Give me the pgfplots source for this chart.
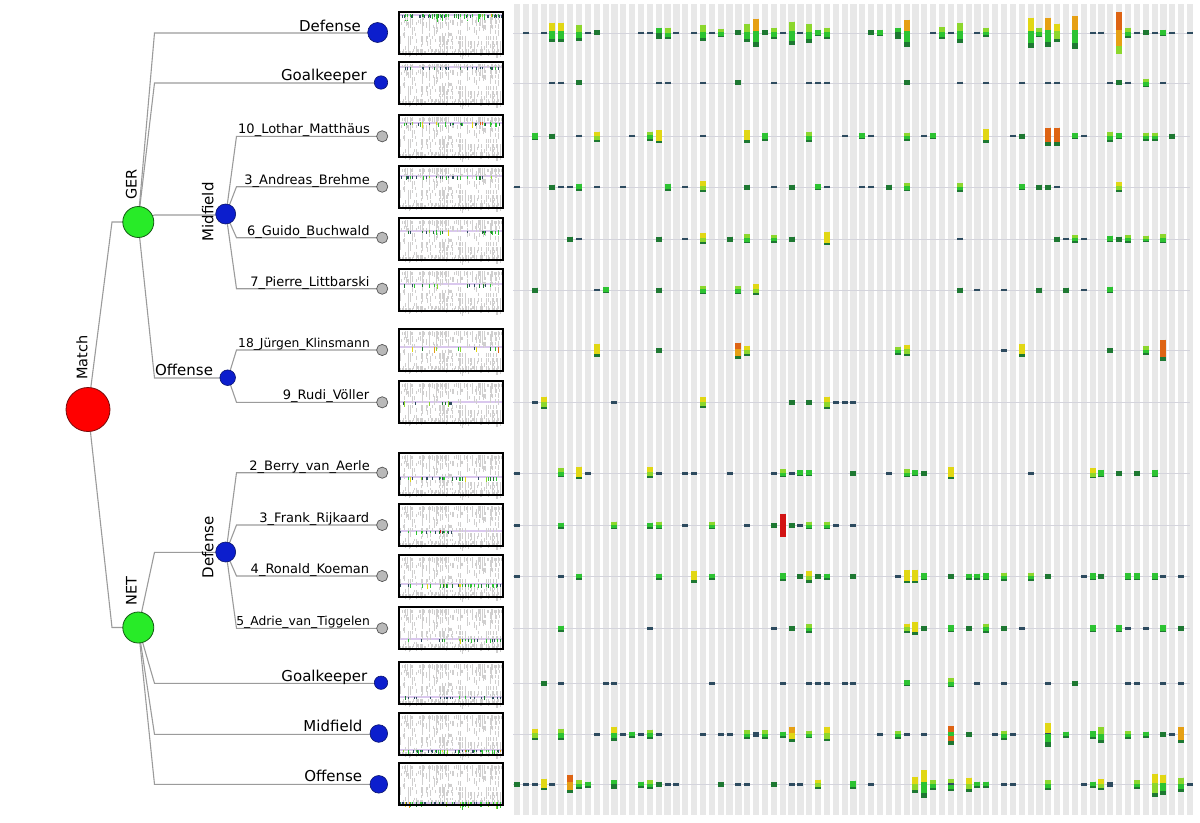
\documentclass[border=0pt]{standalone}
\usepackage{fontspec}
\setmainfont{DejaVu Sans}
\usepackage{pgfplots}
\usepackage{pgfplotstable}
\pgfplotsset{compat=1.18}

\definecolor{edge}{RGB}{155,155,155}
\definecolor{txt}{RGB}{30,30,30}
\definecolor{stripe}{RGB}{232,232,232}
\definecolor{rowline}{RGB}{212,212,220}
\definecolor{lav}{RGB}{218,200,238}
\definecolor{blu}{RGB}{12,30,205}
\definecolor{bluedge}{RGB}{10,20,110}
\definecolor{grn}{RGB}{40,235,40}
\definecolor{grnedge}{RGB}{20,90,20}
\definecolor{redc}{RGB}{255,0,0}
\definecolor{rededge}{RGB}{120,10,10}
\definecolor{leaf}{RGB}{185,185,185}
\definecolor{leafedge}{RGB}{85,85,85}

\newcommand\lbl{\fontsize{15bp}{18bp}\selectfont}
\newcommand\rlbl{\fontsize{14.5bp}{17bp}\selectfont}
\newcommand\plbl{\fontsize{13bp}{16bp}\selectfont}

% stripe centres of the time bins
\pgfplotstableread{
x y
517.0 4
525.9 4
534.7 4
543.6 4
552.4 4
561.3 4
570.1 4
579.0 4
587.8 4
596.7 4
605.6 4
614.4 4
623.3 4
632.1 4
641.0 4
649.8 4
658.7 4
667.5 4
676.4 4
685.2 4
694.1 4
703.0 4
711.8 4
720.7 4
729.5 4
738.4 4
747.2 4
756.1 4
764.9 4
773.8 4
782.7 4
791.5 4
800.4 4
809.2 4
818.1 4
826.9 4
835.8 4
844.6 4
853.5 4
862.3 4
871.2 4
880.1 4
888.9 4
897.8 4
906.6 4
915.5 4
924.3 4
933.2 4
942.0 4
950.9 4
959.8 4
968.6 4
977.5 4
986.3 4
995.2 4
1004.0 4
1012.9 4
1021.7 4
1030.6 4
1039.4 4
1048.3 4
1057.2 4
1066.0 4
1074.9 4
1083.7 4
1092.6 4
1101.4 4
1110.3 4
1119.1 4
1128.0 4
1136.9 4
1145.7 4
1154.6 4
1163.4 4
1172.3 4
1181.1 4
1190.0 4
}\stripes

\pgfplotstableread{
x b
513 33
513 83
513 136
513 187
513 239
513 290
513 350.5
513 402.5
513 473.3
513 525.5
513 576.5
513 628.5
513 683.3
513 734.5
513 784.5
}\rowtab

% glyphs: x, row baseline b, top offset a, height h, colours top/mid/bottom
\pgfplotstableread{
x b a h c1 c2 c3
529.3 33 -1.2 2.4 0 0 0
542.7 33 -1.2 2.4 0 0 0
551 33 -10 19.5 4 2 1
560 33 -10 19.5 4 2 1
578.3 33 -8 16 3 2 1
587.3 33 -1.2 2.4 0 0 0
596 33 -2.5 5 1 1 1
640 33 -1.2 2.4 0 0 0
649 33 -1.2 2.4 0 0 0
658 33 -5 11 2 1 1
666.7 33 -5 11 3 2 1
675.7 33 -1.2 2.4 0 0 0
697.7 33 -1.2 2.4 0 0 0
706.7 33 -8 16 3 2 1
715.7 33 -1.2 2.4 0 0 0
724.3 33 -4 8 3 2 1
742.3 33 -2.5 5 1 1 1
751 33 -9 18 3 2 1
760 33 -14 28 5 2 1
769 33 -2.5 5 1 1 1
777.7 33 -5 10.7 3 2 1
786.7 33 -1.2 2.4 0 0 0
795.3 33 -11.3 23.3 3 2 1
804.3 33 -1.2 2.4 0 0 0
813.3 33 -9 18.7 3 2 1
822 33 -3 6 2 2 1
831 33 -5 10.7 3 2 1
875 33 -2.5 5 1 1 1
884 33 -3 6 2 2 1
901.7 33 -5 10.7 2 1 1
910.7 33 -13 26.7 5 2 1
937.3 33 -1.2 2.4 0 0 0
941.7 33 -5.5 11.3 3 2 1
950.7 33 -1.2 2.4 0 0 0
960 33 -10 20 3 2 1
981.7 33 -1.2 2.4 0 0 0
990.7 33 -5 9 3 2 1
1030 33 -15 30 4 2 1
1039.3 33 -5 9.3 3 2 1
1048.3 33 -15 29 5 2 1
1057.3 33 -9.3 18.3 4 3 1
1075 33 -16.7 32.7 5 2 1
1092.7 33 -1.2 2.4 0 0 0
1101.7 33 -1.2 2.4 0 0 0
1119.3 33 -20.7 41.3 6 5 3
1128.3 33 -5 10 3 2 1
1137.3 33 -1.2 2.4 0 0 0
1146 33 -2.5 5 1 1 1
1155 33 -1.2 2.4 0 0 0
1164 33 -3 6 2 2 1
1172.7 33 -1.2 2.4 0 0 0
1186 33 -1.2 2.4 0 0 0
551 83 -1.2 2.4 0 0 0
560 83 -1.2 2.4 0 0 0
578.3 83 -2.5 5 1 1 1
658 83 -1.2 2.4 0 0 0
666.7 83 -1.2 2.4 0 0 0
706.7 83 -1.2 2.4 0 0 0
742.3 83 -2.5 5 1 1 1
777.7 83 -1.2 2.4 0 0 0
813.3 83 -1.2 2.4 0 0 0
822 83 -1.2 2.4 0 0 0
831 83 -1.2 2.4 0 0 0
910.7 83 -2.5 5 1 1 1
960 83 -1.2 2.4 0 0 0
990.7 83 -1.2 2.4 0 0 0
1021.7 83 -1.2 2.4 0 0 0
1048.3 83 -1.2 2.4 0 0 0
1057.3 83 -1.2 2.4 0 0 0
1110.7 83 -1.2 2.4 0 0 0
1119.3 83 -2.5 5 1 1 1
1128.3 83 -1.2 2.4 0 0 0
1146 83 -4 8 3 2 1
1164 83 -1.2 2.4 0 0 0
538.3 136 -3.3 7.3 2 2 1
551.7 136 -2.5 5 1 1 1
578.3 136 -1.2 2.4 0 0 0
596 136 -4.3 10 4 3 1
631.7 136 -1.2 2.4 0 0 0
649 136 -4.3 9 3 2 1
658 136 -6 13.3 4 4 1
706.7 136 -1.2 2.4 0 0 0
751 136 -6 12.7 4 4 1
769 136 -3.3 8 2 2 1
813.3 136 -4.3 10 3 2 1
844.3 136 -1.2 2.4 0 0 0
861.7 136 -3 6 2 2 1
868 136 -1.2 2.4 0 0 0
910.7 136 -3.3 8 3 2 1
920 136 -1.2 2.4 0 0 0
929 136 -3 6 2 2 1
990.7 136 -6.7 13.3 4 4 1
1012.7 136 -1.2 2.4 0 0 0
1021.7 136 -2.5 5 1 1 1
1048.3 136 -8.3 18 6 6 1
1057.3 136 -8.3 18 6 6 1
1075 136 -3 6 2 2 1
1080 136 -1.2 2.4 0 0 0
1110.7 136 -4.3 10 3 2 1
1119.3 136 -3 6 2 2 1
1146 136 -3.3 8 3 2 1
1155 136 -3.3 8 3 2 1
1172.7 136 -2.5 5 1 1 1
520 187 -1.2 2.4 0 0 0
551.7 187 -2.5 5 1 1 1
560 187 -1.2 2.4 0 0 0
569.3 187 -1.2 2.4 0 0 0
578.3 187 -3.3 7 2 2 1
596 187 -1.2 2.4 0 0 0
622.7 187 -1.2 2.4 0 0 0
666.7 187 -3.3 7 2 2 1
684.3 187 -1.2 2.4 0 0 0
706.7 187 -5.7 11 4 3 1
751 187 -2.5 5 1 1 1
777.7 187 -1.2 2.4 0 0 0
795.3 187 -2.5 5 1 1 1
822 187 -2.7 5.7 2 2 1
831 187 -1.2 2.4 0 0 0
861 187 -1.2 2.4 0 0 0
867 187 -1.2 2.4 0 0 0
892.7 187 -2.5 5 1 1 1
910.7 187 -4 8.3 3 2 1
960 187 -4 9 3 2 1
1021.7 187 -3 6 2 2 1
1039.3 187 -2.5 5 1 1 1
1048.3 187 -2.5 5 1 1 1
1057.3 187 -1.2 2.4 0 0 0
1119.3 187 -5 10 4 3 1
569.3 239 -2.5 5 1 1 1
578.3 239 -1.2 2.4 0 0 0
658 239 -2.5 5 1 1 1
684.3 239 -1.2 2.4 0 0 0
706.7 239 -5.7 10.7 4 3 1
733.3 239 -2.5 5 1 1 1
751 239 -5 9.3 3 2 1
777.7 239 -4 7.7 3 2 1
795.3 239 -2.5 5 1 1 1
831 239 -7.3 13.3 4 4 1
960 239 -1.2 2.4 0 0 0
1057.3 239 -2.5 5 1 1 1
1066 239 -1.2 2.4 0 0 0
1075 239 -4 7.7 3 2 1
1080 239 -1.2 2.4 0 0 0
1110.7 239 -3.3 6.7 2 2 1
1119.3 239 -2.5 5 1 1 1
1128.3 239 -4 7.7 3 2 1
1146 239 -3.3 6.7 3 2 1
1164 239 -5 9.3 3 2 1
538.3 290 -2.5 5 1 1 1
596 290 -1.2 2.4 0 0 0
605 290 -3 6 2 2 1
658 290 -2.5 5 1 1 1
706.7 290 -4 8 3 2 1
742.3 290 -4 8 3 2 1
760 290 -5.7 10.7 4 3 1
960 290 -2.5 5 1 1 1
973.3 290 -1.2 2.4 0 0 0
1004 290 -1.2 2.4 0 0 0
1039.3 290 -2.5 5 1 1 1
1066 290 -2.5 5 1 1 1
1079.3 290 -1.2 2.4 0 0 0
1110.7 290 -3.3 6.7 2 2 1
596 350.5 -6.7 12.7 4 4 1
658 350.5 -2.5 5 1 1 1
742.3 350.5 -8 16.3 6 5 1
751 350.5 -4.7 9.7 4 3 1
901.7 350.5 -4 8.3 3 2 1
910.7 350.5 -5.7 11 4 3 1
1004 350.5 -1.2 2.4 0 0 0
1021.7 350.5 -6.7 12.7 4 4 1
1110.7 350.5 -2.5 5 1 1 1
1146 350.5 -4.7 9 3 2 1
1164 350.5 -10.7 20.7 6 6 1
537.3 402.5 -1.2 2.4 0 0 0
542.7 402.5 -6 12.7 4 3 1
614 402.5 -1.2 2.4 0 0 0
706.7 402.5 -5.3 11 4 3 1
795.3 402.5 -2.5 5 1 1 1
813.3 402.5 -2.5 5 1 1 1
831 402.5 -6 12.7 4 3 1
839 402.5 -1.2 2.4 0 0 0
844 402.5 -1.2 2.4 0 0 0
852.7 402.5 -1.2 2.4 0 0 0
516 473.3 -1.2 2.4 0 0 0
565 473.3 -5 9 3 2 1
582.7 473.3 -6.7 12.7 4 4 1
591.7 473.3 -1.2 2.4 0 0 0
653.3 473.3 -6 11 4 3 1
662.7 473.3 -1.2 2.4 0 0 0
686.5 473.3 -1.2 2.4 0 0 0
692 473.3 -1.2 2.4 0 0 0
729 473.3 -1.2 2.4 0 0 0
773.3 473.3 -1.2 2.4 0 0 0
782.3 473.3 -4 8 3 2 1
791 473.3 -1.2 2.4 0 0 0
800 473.3 -3 6 2 2 1
809 473.3 -3 6 2 2 1
857.5 473.3 -2.5 5 1 1 1
888.3 473.3 -1.2 2.4 0 0 0
906.7 473.3 -4 8 3 2 1
915.3 473.3 -3 6 2 2 1
924.3 473.3 -2.5 5 1 1 1
946.7 473.3 -6 11.7 4 4 1
1035 473.3 -1.2 2.4 0 0 0
1088.3 473.3 -5 10 4 3 1
1097.3 473.3 -3.5 7 2 2 1
1115 473.3 -2.5 5 1 1 1
1132.7 473.3 -2.5 5 1 1 1
1150.7 473.3 -3.5 7 2 2 1
516 525.5 -1.2 2.4 0 0 0
565 525.5 -3 6 2 2 1
617.7 525.5 -4 7.7 3 2 1
653.3 525.5 -3 6 2 2 1
662.7 525.5 -4 7.7 3 2 1
689.3 525.5 -1.2 2.4 0 0 0
711 525.5 -4 7.7 3 2 1
746.7 525.5 -1.2 2.4 0 0 0
773.3 525.5 -2.5 5 1 1 1
782.3 525.5 -11.7 23.3 7 7 7
791 525.5 -2.5 5 1 1 1
800 525.5 -1.2 2.4 0 0 0
809 525.5 -4 7.7 3 2 1
826.7 525.5 -4 7.7 3 2 1
835.7 525.5 -1.2 2.4 0 0 0
853 525.5 -1.2 2.4 0 0 0
516 576.5 -1.2 2.4 0 0 0
565 576.5 -1.2 2.4 0 0 0
582.7 576.5 -3 6 2 2 1
662.7 576.5 -3 6 2 2 1
693.3 576.5 -6 12 4 4 1
711 576.5 -3 6 2 2 1
782.3 576.5 -3.5 7.5 2 2 1
800 576.5 -2.5 5 1 1 1
809 576.5 -6 12 4 3 1
817.7 576.5 -2.5 5 1 1 1
826.7 576.5 -3 6 2 2 1
857.5 576.5 -2.5 5 1 1 1
897.3 576.5 -1.2 2.4 0 0 0
906.7 576.5 -6.7 13.3 4 4 1
915.3 576.5 -6.7 13.3 4 4 1
924.3 576.5 -3.5 7 2 2 1
946.7 576.5 -2.5 5 1 1 1
968.3 576.5 -3 6 2 2 1
977.3 576.5 -3 6 2 2 1
986 576.5 -3.5 7 2 2 1
1008.3 576.5 -4 8 3 2 1
1035 576.5 -4 8 3 2 1
1052.7 576.5 -2.5 5 1 1 1
1083.3 576.5 -1.2 2.4 0 0 0
1088.3 576.5 -3.5 7 2 2 1
1097.3 576.5 -2.5 5 1 1 1
1124 576.5 -3.5 7 2 2 1
1132.7 576.5 -3.5 7 2 2 1
1150.7 576.5 -3.5 7 2 2 1
1159.3 576.5 -1.2 2.4 0 0 0
1177.3 576.5 -1.2 2.4 0 0 0
565 628.5 -3 6 2 2 1
653.3 628.5 -1.2 2.4 0 0 0
773.3 628.5 -1.2 2.4 0 0 0
791 628.5 -2.5 5 1 1 1
809 628.5 -4.3 8.7 3 2 1
906.7 628.5 -5 9.3 4 3 1
915.3 628.5 -6.3 12.3 4 4 1
924.3 628.5 -2.5 5 1 1 1
946.7 628.5 -3.5 7 2 2 1
964.3 628.5 -2.5 5 1 1 1
986 628.5 -5 9.3 3 2 1
1008.3 628.5 -2.5 5 1 1 1
1026 628.5 -1.2 2.4 0 0 0
1088.3 628.5 -3.5 7 2 2 1
1115 628.5 -3.5 7 2 2 1
1124 628.5 -1.2 2.4 0 0 0
1141.7 628.5 -1.2 2.4 0 0 0
1159.3 628.5 -3.5 7 2 2 1
1177.3 628.5 -2.5 5 1 1 1
547.3 683.3 -2.5 5 1 1 1
565 683.3 -1.2 2.4 0 0 0
609.3 683.3 -1.2 2.4 0 0 0
618.3 683.3 -1.2 2.4 0 0 0
711 683.3 -1.2 2.4 0 0 0
782.3 683.3 -1.2 2.4 0 0 0
809 683.3 -1.2 2.4 0 0 0
817.7 683.3 -1.2 2.4 0 0 0
826.7 683.3 -1.2 2.4 0 0 0
848.3 683.3 -1.2 2.4 0 0 0
857.5 683.3 -1.2 2.4 0 0 0
906.7 683.3 -3 6 2 2 1
946.7 683.3 -5 9 3 2 1
977.3 683.3 -1.2 2.4 0 0 0
1008.3 683.3 -1.2 2.4 0 0 0
1052.7 683.3 -1.2 2.4 0 0 0
1070.7 683.3 -2.5 5 1 1 1
1124 683.3 -1.2 2.4 0 0 0
1132.7 683.3 -1.2 2.4 0 0 0
1159.3 683.3 -1.2 2.4 0 0 0
1177.3 683.3 -1.2 2.4 0 0 0
534 734.5 -5.7 10.7 4 3 1
565 734.5 -5.7 10.7 3 2 1
600.7 734.5 -1.2 2.4 0 0 0
618.3 734.5 -7.7 13.7 4 2 1
627.3 734.5 -1.2 2.4 0 0 0
636 734.5 -3 6 2 2 1
645 734.5 -1.2 2.4 0 0 0
653.3 734.5 -5 9.3 3 2 1
662.7 734.5 -1.2 2.4 0 0 0
702.3 734.5 -1.2 2.4 0 0 0
720 734.5 -1.2 2.4 0 0 0
729 734.5 -1.2 2.4 0 0 0
746.7 734.5 -4.3 8.3 3 2 1
755.7 734.5 -2.5 5 0 0 0
764.3 734.5 -4.3 8.3 3 2 1
782.3 734.5 -3 6 2 2 1
791 734.5 -7.7 14.7 5 4 1
809 734.5 -4 7.7 3 2 1
826.7 734.5 -7.7 14.3 4 3 1
879.3 734.5 -1.2 2.4 0 0 0
897.3 734.5 -4 8.3 3 2 1
906.7 734.5 -1.2 2.4 0 0 0
924.3 734.5 -1.2 2.4 0 0 0
946.7 734.5 -8.3 18.3 6 6 1
955.3 734.5 -3 6 2 2 1
964.3 734.5 -1.2 2.4 0 0 0
968.3 734.5 -2.5 5 1 1 1
994 734.5 -1.2 2.4 0 0 0
999 734.5 -1.2 2.4 0 0 0
1008.3 734.5 -4 9.3 3 2 1
1017.3 734.5 -1.2 2.4 0 0 0
1044 734.5 -1.2 2.4 0 0 0
1052.7 734.5 -11.3 23.3 4 2 1
1061.7 734.5 -3 6 2 2 1
1088.3 734.5 -3.5 7.7 2 2 1
1097.3 734.5 -7.3 15.7 3 2 1
1124 734.5 -3.5 7.7 3 2 1
1141.7 734.5 -3 6 2 2 1
1159.3 734.5 -2.5 5 1 1 1
1168.3 734.5 -1.2 2.4 0 0 0
1177.3 734.5 -7.3 16 5 5 1
516 784.5 -2.5 5 1 1 1
525 784.5 -1.2 2.4 0 0 0
534 784.5 -1.2 2.4 0 0 0
547.3 784.5 -5.7 10.7 4 4 1
556 784.5 -1.2 2.4 0 0 0
574 784.5 -10 18.3 6 5 1
582.7 784.5 -4.3 8.7 3 2 1
591.7 784.5 -3 6 2 2 1
618.3 784.5 -4.3 8.7 2 1 1
645 784.5 -3 6 2 2 1
653.3 784.5 -4.3 8.7 3 2 1
662.7 784.5 -2.5 5 1 1 1
671.7 784.5 -1.2 2.4 0 0 0
680.7 784.5 -1.2 2.4 0 0 0
720 784.5 -2.5 5 1 1 1
737.7 784.5 -1.2 2.4 0 0 0
746.7 784.5 -1.2 2.4 0 0 0
773.3 784.5 -2.5 5 1 1 1
791 784.5 -1.2 2.4 0 0 0
800 784.5 -1.2 2.4 0 0 0
817.7 784.5 -5 9.3 4 3 1
857.5 784.5 -4 8 2 2 1
870.7 784.5 -1.2 2.4 0 0 0
915.3 784.5 -7.7 16 4 3 1
924.3 784.5 -14.3 27.3 4 2 1
933.3 784.5 -4.3 9.3 3 2 1
946.7 784.5 -5.3 11.7 3 2 1
955.3 784.5 -1.2 2.4 0 0 0
968.3 784.5 -7 14.3 4 3 1
977.3 784.5 -3 6 2 2 1
986 784.5 -3 6 2 2 1
1008.3 784.5 -1.2 2.4 0 0 0
1017.3 784.5 -1.2 2.4 0 0 0
1044 784.5 -4.3 9.3 3 2 1
1052.7 784.5 -4.3 9.3 3 2 1
1083.3 784.5 -1.2 2.4 0 0 0
1088.3 784.5 -3 6 2 2 1
1097.3 784.5 -5.3 11 4 3 1
1106 784.5 -2.5 5 0 0 0
1132.7 784.5 -4.3 8.3 3 2 1
1150.7 784.5 -11 23.3 4 3 1
1159.3 784.5 -10 20.7 4 2 1
1177.3 784.5 -7 14.3 3 2 1
1190 784.5 -1.2 2.4 0 0 0
}\glyphs

% one miniature of the whole timeline: top, bottom, highlight y, range of the coloured row
\newcommand\thumb[5]{%
  \addplot[lav, line width=2bp] coordinates {(400,#3)(502,#3)};
  \addplot[quiver={u=0, v={2.5+0.2*\thisrow{h}}, colored=mapped color,
      every arrow/.append style={line width=0.55bp}}, line width=0.55bp,
    point meta={(\thisrow{b}>#4 && \thisrow{b}<#5) ? \thisrow{c2} : 8}]
    table[x expr={400+(\thisrow{x}-513)*0.1507},
          y expr={#1+1+(\thisrow{b}+\thisrow{a})*0.0491}] {\glyphs};
  \addplot[black, line width=1.2bp, line join=miter]
    coordinates {(451,#1)(503,#1)(503,#2)(399,#2)(399,#1)(451,#1)};
}

\begin{document}
\begin{tikzpicture}
\begin{axis}[
  scale only axis, width=1200bp, height=822bp,
  xmin=0, xmax=1200, ymin=0, ymax=822, y dir=reverse,
  hide axis,
  colormap={glyph}{rgb255(0cm)=(45,75,95) rgb255(1cm)=(30,120,50)
    rgb255(2cm)=(45,195,50) rgb255(3cm)=(140,215,45) rgb255(4cm)=(225,215,20)
    rgb255(5cm)=(230,160,20) rgb255(6cm)=(222,100,20) rgb255(7cm)=(210,20,20)
    rgb255(8cm)=(208,208,208)},
  point meta min=0, point meta max=8,
  every node/.style={inner sep=0pt, text=txt},
]
\addplot[draw=none] coordinates {(0,0)(1200,822)};

% time bins
\addplot[stripe, quiver={u=0, v=811, every arrow/.append style={line width=6.2bp}}]
  table[x=x, y=y] {\stripes};
\addplot[rowline, quiver={u=677, v=0, every arrow/.append style={line width=0.8bp}}]
  table[x=x, y=b] {\rowtab};

% event glyphs, three colour bands each
\addplot[quiver={u=0, v=\thisrow{h}, colored=mapped color,
    every arrow/.append style={line width=6bp}}, point meta=\thisrow{c3}]
  table[x expr={517+8.855*round((\thisrow{x}-517)/8.855)}, y expr={\thisrow{b}+\thisrow{a}}] {\glyphs};
\addplot[quiver={u=0, v={0.82*\thisrow{h}}, colored=mapped color,
    every arrow/.append style={line width=6bp}}, point meta=\thisrow{c2}]
  table[x expr={517+8.855*round((\thisrow{x}-517)/8.855)}, y expr={\thisrow{b}+\thisrow{a}}] {\glyphs};
\addplot[quiver={u=0, v={0.42*\thisrow{h}}, colored=mapped color,
    every arrow/.append style={line width=6bp}}, point meta=\thisrow{c1}]
  table[x expr={517+8.855*round((\thisrow{x}-517)/8.855)}, y expr={\thisrow{b}+\thisrow{a}}] {\glyphs};

% miniatures
\thumb{12}{54}{14.6}{32}{34}
\thumb{62}{104}{67.1}{82}{84}
\thumb{115}{157}{122.7}{135}{137}
\thumb{166}{208}{176.2}{186}{188}
\thumb{218}{260}{230.7}{238}{240}
\thumb{269}{311}{284.2}{289}{291}
\thumb{329}{371}{347.2}{349}{352}
\thumb{381}{423}{401.7}{401}{404}
\thumb{453}{495}{477.3}{472}{475}
\thumb{504}{546}{530.8}{524}{527}
\thumb{555}{597}{584.3}{575}{578}
\thumb{607}{649}{638.8}{627}{630}
\thumb{662}{704}{696.5}{682}{685}
\thumb{713}{755}{750}{733}{736}
\thumb{763}{805}{802.5}{783}{786}

% tree edges
\addplot[edge, line width=1.1bp] coordinates {(88,409.5)(112,222)(138,222)};
\addplot[edge, line width=1.1bp] coordinates {(88,409.5)(112,627.5)(138,627.5)};
\addplot[edge, line width=1.1bp] coordinates {(138,222)(154.5,33)(378,33)};
\addplot[edge, line width=1.1bp] coordinates {(138,222)(154.5,83)(381,83)};
\addplot[edge, line width=1.1bp] coordinates {(138,222)(154.5,215)(226,215)};
\addplot[edge, line width=1.1bp] coordinates {(138,222)(154.5,378)(228,378)};
\addplot[edge, line width=1.1bp] coordinates {(226,214)(236.5,136.3)(382,136.3)};
\addplot[edge, line width=1.1bp] coordinates {(226,214)(236.5,186.7)(382,186.7)};
\addplot[edge, line width=1.1bp] coordinates {(226,214)(236.5,237.7)(382,237.7)};
\addplot[edge, line width=1.1bp] coordinates {(226,214)(236.5,288.7)(382,288.7)};
\addplot[edge, line width=1.1bp] coordinates {(228,377.7)(236.5,350)(382,350)};
\addplot[edge, line width=1.1bp] coordinates {(228,377.7)(236.5,402.3)(382,402.3)};
\addplot[edge, line width=1.1bp] coordinates {(138.3,627.5)(154.5,552.3)(226,552.3)};
\addplot[edge, line width=1.1bp] coordinates {(138.3,627.5)(154.5,683.3)(381,683.3)};
\addplot[edge, line width=1.1bp] coordinates {(138.3,627.5)(154.5,734.3)(379,734.3)};
\addplot[edge, line width=1.1bp] coordinates {(138.3,627.5)(154.5,784.3)(379,784.3)};
\addplot[edge, line width=1.1bp] coordinates {(226,552)(236.5,472.7)(382,472.7)};
\addplot[edge, line width=1.1bp] coordinates {(226,552)(236.5,525)(382,525)};
\addplot[edge, line width=1.1bp] coordinates {(226,552)(236.5,576)(382,576)};
\addplot[edge, line width=1.1bp] coordinates {(226,552)(236.5,628.3)(382,628.3)};

% tree nodes
\addplot[only marks, mark=*, mark size=22bp, mark options={fill=redc, draw=rededge, line width=0.8bp}]
  coordinates {(88,409.5)};
\addplot[only marks, mark=*, mark size=15.5bp, mark options={fill=grn, draw=grnedge, line width=0.8bp}]
  coordinates {(138.3,222)(138.3,627.5)};
\addplot[only marks, mark=*, mark size=10bp, mark options={fill=blu, draw=bluedge, line width=0.6bp}]
  coordinates {(377.7,32.5)(225.7,214)(225.7,552)};
\addplot[only marks, mark=*, mark size=8.8bp, mark options={fill=blu, draw=bluedge, line width=0.6bp}]
  coordinates {(378.8,733.5)(378.8,784.3)};
\addplot[only marks, mark=*, mark size=7.8bp, mark options={fill=blu, draw=bluedge, line width=0.6bp}]
  coordinates {(227.7,377.7)};
\addplot[only marks, mark=*, mark size=6.7bp, mark options={fill=blu, draw=bluedge, line width=0.6bp}]
  coordinates {(381,82.5)(381,682.7)};
\addplot[only marks, mark=*, mark size=5.6bp, mark options={fill=leaf, draw=leafedge, line width=0.7bp}]
  coordinates {(382.2,136.3)(382.2,186.7)(382.2,237.7)(382.2,288.7)(382.2,350)
    (382.2,402.3)(382.2,472.7)(382.2,525)(382.2,576)(382.2,628.3)};

% labels
\node[font=\rlbl, rotate=90, anchor=base west] at (axis cs:87.3,383.3) {Match};
\node[font=\rlbl, rotate=90, anchor=base west] at (axis cs:136.7,203.3) {GER};
\node[font=\rlbl, rotate=90, anchor=base west] at (axis cs:136.7,609.3) {NET};
\node[font=\lbl, rotate=90, anchor=base west] at (axis cs:213.3,245) {Midfield};
\node[font=\lbl, rotate=90, anchor=base west] at (axis cs:213.3,581.7) {Defense};

\node[font=\lbl, anchor=base east] at (axis cs:364.5,31.5) {Defense};
\node[font=\lbl, anchor=base east] at (axis cs:370.3,80.3) {Goalkeeper};
\node[font=\lbl, anchor=base east] at (axis cs:216.5,375.5) {Offense};
\node[font=\lbl, anchor=base east] at (axis cs:370.7,681.2) {Goalkeeper};
\node[font=\lbl, anchor=base east] at (axis cs:366,731.5) {Midfield};
\node[font=\lbl, anchor=base east] at (axis cs:365.7,781.7) {Offense};

\node[font=\plbl, anchor=base east] at (axis cs:373.5,133.8) {10\_Lothar\_Matthäus};
\node[font=\plbl, anchor=base east] at (axis cs:373.3,184.2) {3\_Andreas\_Brehme};
\node[font=\plbl, anchor=base east] at (axis cs:373,235.2) {6\_Guido\_Buchwald};
\node[font=\plbl, anchor=base east] at (axis cs:373,286.2) {7\_Pierre\_Littbarski};
\node[font=\fontsize{12.3bp}{15bp}\selectfont, anchor=base east] at (axis cs:373.3,347.6) {18\_Jürgen\_Klinsmann};
\node[font=\plbl, anchor=base east] at (axis cs:372.7,399.8) {9\_Rudi\_Völler};
\node[font=\plbl, anchor=base east] at (axis cs:373.3,470.2) {2\_Berry\_van\_Aerle};
\node[font=\plbl, anchor=base east] at (axis cs:372.7,522.5) {3\_Frank\_Rijkaard};
\node[font=\plbl, anchor=base east] at (axis cs:372.7,573.5) {4\_Ronald\_Koeman};
\node[font=\fontsize{12.3bp}{15bp}\selectfont, anchor=base east] at (axis cs:373.3,625.8) {5\_Adrie\_van\_Tiggelen};
\end{axis}
\end{tikzpicture}
\end{document}
